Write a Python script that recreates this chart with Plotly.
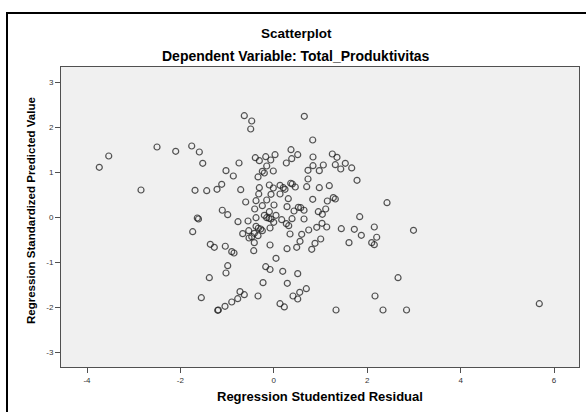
import plotly.graph_objects as go

# Regression Studentized Residual (x) and Regression Standardized Predicted Value (y)
resid = [
    -0.632, -0.473, -0.495, -2.501, -2.101, -1.758, -1.595, -1.522, -3.535, -3.737,
    -0.745, -1.024, -0.867, -2.844, -1.687, -1.437, -1.216, -1.116, -0.709, -0.602,
    -1.103, -0.987, -1.638, -1.613, -0.767, -0.552, -1.737, -0.666, -0.537, -0.396,
    -0.310, -0.173, -0.066, 0.026, 0.368, 0.383, 0.268, 0.512, -0.152, -0.246,
    -0.203, -0.011, -0.338, -0.310, -0.096, -0.011, 0.133, 0.203, 0.240, 0.362,
    0.460, -0.323, -0.152, -0.381, -0.060, 0.133, 0.310, 0.004, -0.246, -0.409,
    -0.096, 0.283, 0.433, 0.525, -0.381, -0.203, -0.152, -0.103, 0.047, -0.060,
    -0.002, 0.169, 0.390, 0.268, 0.319, -0.381, -0.332, -0.281, -0.246, -0.418,
    -0.531, -0.473, -0.338, -0.081, 0.347, -0.418, -1.360, -1.274, -1.039, -0.901,
    -0.852, -0.430, -0.081, 0.283, 0.490, 0.047, -0.987, -0.173, -0.081, 0.653,
    0.833, 0.839, 1.253, 1.353, 0.839, 1.060, 0.732, 0.974, 1.317, 1.433,
    1.531, 1.668, 0.732, 1.782, 0.396, 0.704, 0.974, 1.188, 0.833, 1.146,
    1.274, 1.317, 2.424, 0.576, 0.647, 0.953, 1.039, 1.111, 1.839, 0.647,
    1.032, 1.133, 0.747, 0.919, 1.445, 1.724, 2.152, 1.874, 2.203, 0.597,
    1.004, 0.561, 0.882, 1.610, 2.096, 2.152, 0.812, 2.991, 2.660, 2.842,
    5.685, 0.191, 0.512, -0.231, 0.289, -0.724, -0.632, -0.773, -0.901, -0.338,
    0.411, 0.512, 0.555, 0.696, 0.133, 0.225, 1.332, 2.167, 2.338, -1.024,
    -1.381, -1.552, -1.045, -1.188, -1.201,
]
pred = [
    2.258, 2.140, 1.962, 1.562, 1.467, 1.584, 1.451, 1.200, 1.362, 1.111,
    1.207, 1.036, 0.918, 0.607, 0.600, 0.591, 0.622, 0.733, 0.613, 0.340,
    0.156, 0.058, -0.016, -0.038, -0.098, -0.082, -0.320, -0.364, -0.298, 1.324,
    1.258, 1.347, 1.273, 1.391, 1.502, 1.302, 1.207, 1.391, 1.140, 1.022,
    0.984, 1.029, 0.896, 0.658, 0.718, 0.651, 0.711, 0.658, 0.622, 0.756,
    0.673, 0.518, 0.384, 0.369, 0.511, 0.518, 0.413, 0.273, 0.258, 0.184,
    0.124, 0.236, 0.140, 0.222, -0.009, 0.044, -0.009, -0.022, 0.044, -0.038,
    -0.111, -0.053, -0.031, -0.142, -0.187, -0.200, -0.244, -0.260, -0.298, -0.356,
    -0.460, -0.431, -0.409, -0.238, -0.371, -0.564, -0.600, -0.667, -0.644, -0.764,
    -0.793, -0.742, -0.616, -0.698, -0.667, -0.911, -1.076, -1.098, -1.160, 2.244,
    1.718, 1.340, 1.407, 1.333, 1.147, 1.162, 1.044, 1.036, 1.169, 1.073,
    1.200, 1.096, 0.851, 0.822, 0.740, 0.680, 0.658, 0.702, 0.400, 0.362,
    0.436, 0.407, 0.324, 0.213, 0.156, 0.124, 0.067, 0.184, 0.013, -0.038,
    -0.133, -0.216, -0.282, -0.222, -0.253, -0.267, -0.216, -0.400, -0.444, -0.378,
    -0.482, -0.533, -0.578, -0.564, -0.564, -0.609, -0.711, -0.289, -1.342, -2.060,
    -1.920, -1.200, -1.253, -1.453, -1.467, -1.653, -1.720, -1.809, -1.882, -1.749,
    -1.749, -1.816, -1.667, -1.587, -1.920, -1.993, -2.060, -1.749, -2.060, -1.238,
    -1.342, -1.787, -1.978, -2.060, -2.067,
]

x_ticks = [-4, -2, 0, 2, 4, 6]
y_ticks = [-3, -2, -1, 0, 1, 2, 3]

title_text = "Scatterplot"
subtitle_text = "Dependent Variable: Total_Produktivitas"
x_title = "Regression Studentized Residual"
y_title = "Regression Standardized Predicted Value"

FONT = "Liberation Sans, Arial, sans-serif"
W, H = 586, 412
ML, MR, MT, MB = 61, 7, 67, 45
PW, PH = W - ML - MR, H - MT - MB


def px(xp):
    return (xp - ML) / PW


def py(yp):
    return (H - MB - yp) / PH


fig = go.Figure()
fig.add_trace(go.Scatter(
    x=resid, y=pred, mode="markers",
    marker=dict(symbol="circle-open", size=6,
                line=dict(width=1.2, color="rgba(30,30,30,0.75)"),
                color="rgba(30,30,30,0.75)"),
    hoverinfo="x+y", showlegend=False,
))

axis_common = dict(
    showgrid=False, zeroline=False, showline=True, mirror=True,
    linecolor="#505050", linewidth=1,
    ticks="outside", ticklen=5, tickwidth=1, tickcolor="#505050",
    tickfont=dict(family=FONT, size=8, color="#333333"),
)

fig.update_layout(
    width=W, height=H,
    margin=dict(l=ML, r=MR, t=MT, b=MB, pad=0),
    paper_bgcolor="white", plot_bgcolor="#f0f0f0",
    xaxis=dict(range=[-4.557, 6.535], tickvals=x_ticks, ticktext=[str(v) for v in x_ticks], **axis_common),
    yaxis=dict(range=[-3.327, 3.340], tickvals=y_ticks, ticktext=[str(v) for v in y_ticks], **axis_common),
    font=dict(family=FONT, color="black"),
    shapes=[dict(type="rect", xref="paper", yref="paper",
                 x0=px(7), y0=py(13), x1=px(W + 20), y1=py(H + 20),
                 line=dict(color="black", width=2), fillcolor="rgba(0,0,0,0)", layer="above")],
    annotations=[
        dict(text="<b>%s</b>" % title_text, x=px(296), y=py(33), xref="paper", yref="paper",
             showarrow=False, xanchor="center", yanchor="middle", font=dict(size=13.5, family=FONT, color="black")),
        dict(text="<b>%s</b>" % subtitle_text, x=px(296), y=py(56), xref="paper", yref="paper",
             showarrow=False, xanchor="center", yanchor="middle", font=dict(size=14, family=FONT, color="black")),
        dict(text="<b>%s</b>" % x_title, x=0.5, y=py(396), xref="paper", yref="paper",
             showarrow=False, xanchor="center", yanchor="middle", font=dict(size=13, family=FONT, color="black")),
        dict(text="<b>%s</b>" % y_title, x=px(31), y=py(211), xref="paper", yref="paper",
             showarrow=False, xanchor="center", yanchor="middle", textangle=-90,
             font=dict(size=11.5, family=FONT, color="black")),
    ],
)

fig.write_html("out.html",
               config={"displayModeBar": False},
               post_script="document.body.style.margin='0';document.body.style.overflow='hidden';")
